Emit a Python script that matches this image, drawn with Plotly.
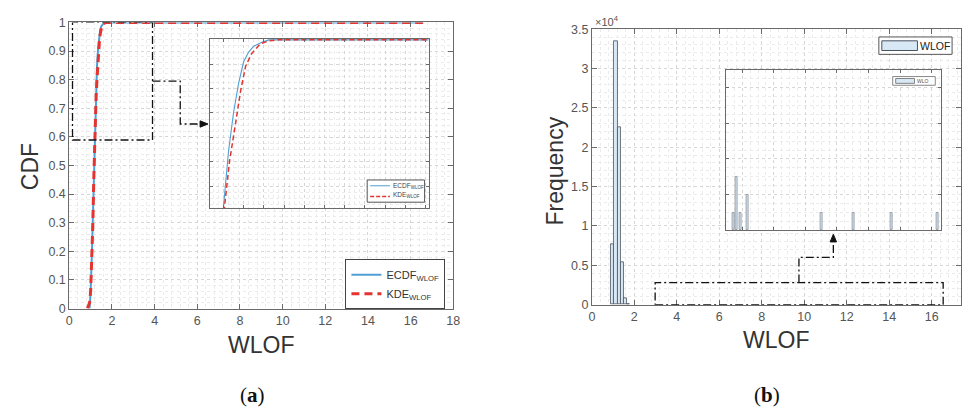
import plotly.graph_objects as go

W, H = 968, 416


def px(x):
    return x / W


def py(y):
    return 1 - y / H


# ---------------- data ----------------
ecdf_x = [0.95, 1.0, 1.05, 1.1, 1.15, 1.2, 1.25, 1.3, 1.35, 1.4, 1.45, 1.5, 1.58, 1.65, 16.55]
ecdf_y = [0.0, 0.06, 0.17, 0.32, 0.49, 0.655, 0.77, 0.85, 0.91, 0.955, 0.975, 0.987, 0.995, 1.0, 1.0]

kde_x = [0.85, 0.95, 1.0, 1.05, 1.1, 1.15, 1.21, 1.26, 1.32, 1.37, 1.42, 1.48, 1.565, 1.65, 1.73, 16.7]
kde_y = [0.0, 0.02, 0.06, 0.15, 0.29, 0.46, 0.655, 0.75, 0.828, 0.895, 0.946, 0.972, 0.992, 0.998, 1.0, 1.0]

bin_edges = [0.9, 1.03, 1.245, 1.38, 1.505, 1.66, 1.78]
bin_counts = [7700, 33500, 22500, 5400, 860, 100]

outlier_x = [3.47, 3.62, 3.91, 4.32, 8.99, 11.05, 13.45, 16.35]
outlier_counts = [1, 3, 1, 2, 1, 1, 1, 1]

x_ticks = list(range(0, 19, 2))
cdf_ticks = [0, 0.1, 0.2, 0.3, 0.4, 0.5, 0.6, 0.7, 0.8, 0.9, 1]
freq_ticks = [0, 5000, 10000, 15000, 20000, 25000, 30000, 35000]
freq_ticklabels = ["0", "0.5", "1", "1.5", "2", "2.5", "3", "3.5"]

# ---------------- styles ----------------
BLUE = "#4f9fd4"
RED = "#e3342f"
BAR_FILL = "#d9e8f5"
BAR_EDGE = "#4a525c"
AX = "#6a6a6a"
GRID = "#d6d6d6"
MGRID = "#ebebeb"
FONT = "Liberation Sans, Arial, sans-serif"
TICKFONT = dict(family=FONT, size=12.5, color="#555555")

bar_centers = [(a + b) / 2 for a, b in zip(bin_edges[:-1], bin_edges[1:])]
bar_widths = [b - a for a, b in zip(bin_edges[:-1], bin_edges[1:])]

fig = go.Figure()

# main CDF
fig.add_trace(go.Scatter(x=ecdf_x, y=ecdf_y, mode="lines", name="ECDF<sub>WLOF</sub>",
                         line=dict(color=BLUE, width=2), xaxis="x", yaxis="y"))
fig.add_trace(go.Scatter(x=kde_x, y=kde_y, mode="lines", name="KDE<sub>WLOF</sub>",
                         line=dict(color=RED, width=3, dash="8px,5px"), xaxis="x", yaxis="y"))
# inset CDF
fig.add_trace(go.Scatter(x=ecdf_x, y=ecdf_y, mode="lines", showlegend=False,
                         line=dict(color=BLUE, width=1.1), xaxis="x2", yaxis="y2"))
fig.add_trace(go.Scatter(x=kde_x, y=kde_y, mode="lines", showlegend=False,
                         line=dict(color=RED, width=1.5, dash="5px,3px"), xaxis="x2", yaxis="y2"))
# histogram
fig.add_trace(go.Bar(x=bar_centers, y=bin_counts, width=bar_widths, showlegend=False,
                     marker=dict(color=BAR_FILL, line=dict(color=BAR_EDGE, width=0.8)),
                     xaxis="x3", yaxis="y3"))
# inset histogram
fig.add_trace(go.Bar(x=outlier_x, y=outlier_counts, width=0.12, showlegend=False,
                     marker=dict(color=BAR_FILL, line=dict(color="#7a828c", width=0.7)),
                     xaxis="x4", yaxis="y4"))


def axis(domain, anchor, rng, labels=True, **kw):
    d = dict(domain=domain, anchor=anchor, range=rng, showline=True, linecolor=AX, linewidth=1,
             mirror="ticks", ticks="inside", ticklen=5, tickcolor=AX, showgrid=True,
             gridcolor=GRID, griddash="dot", gridwidth=1, zeroline=False,
             showticklabels=labels, tickfont=TICKFONT, fixedrange=True)
    d.update(kw)
    return d


fig.update_layout(
    width=W, height=H, margin=dict(l=0, r=0, t=0, b=0),
    paper_bgcolor="white", plot_bgcolor="white",
    font=dict(family=FONT),
    bargap=0,
    xaxis=axis([px(67), px(455)], "y", [0, 18], tickvals=x_ticks,
               minor=dict(dtick=0.4, showgrid=True, gridcolor=MGRID, griddash="dot", ticks="")),
    yaxis=axis([py(312), py(16)], "x", [0, 1], tickvals=cdf_ticks,
               minor=dict(dtick=0.02, showgrid=True, gridcolor=MGRID, griddash="dot", ticks="")),
    xaxis2=axis([px(209), px(430)], "y2", [1.066, 3.23], labels=False, tick0=1.2, dtick=0.2, ticklen=3,
                minor=dict(dtick=0.05, showgrid=True, gridcolor=MGRID, griddash="dot", ticks="")),
    yaxis2=axis([py(208), py(33)], "x2", [0.655, 1.002], labels=False, tick0=0.7, dtick=0.05, ticklen=3,
                minor=dict(dtick=0.0125, showgrid=True, gridcolor=MGRID, griddash="dot", ticks="")),
    xaxis3=axis([px(595), 1.0], "y3", [0, 17.38], tickvals=list(range(0, 17, 2)),
                minor=dict(dtick=0.4, showgrid=True, gridcolor=MGRID, griddash="dot", ticks="")),
    yaxis3=axis([py(308), py(23)], "x3", [0, 35000], tickvals=freq_ticks, ticktext=freq_ticklabels,
                minor=dict(dtick=1000, showgrid=True, gridcolor=MGRID, griddash="dot", ticks="")),
    xaxis4=axis([px(731), px(948)], "y4", [3, 16.6], labels=False, tickvals=list(range(4, 17, 2)), ticklen=3,
                minor=dict(dtick=0.5, showgrid=True, gridcolor=MGRID, griddash="dot", ticks="")),
    yaxis4=axis([py(231), py(65)], "x4", [0, 9], labels=False, dtick=2, ticklen=3,
                minor=dict(dtick=0.5, showgrid=True, gridcolor=MGRID, griddash="dot", ticks="")),
    legend=dict(x=px(346), y=py(261), xanchor="left", yanchor="top",
                bgcolor="white", bordercolor="#444444", borderwidth=1,
                font=dict(family=FONT, size=11, color="#333333"),
                tracegroupgap=0, itemwidth=30),
)

shapes = []
# white backgrounds behind insets (cover main grid)
shapes.append(dict(type="rect", xref="x2", yref="y2", x0=1.066, x1=3.23, y0=0.655, y1=1.002,
                   fillcolor="white", line=dict(width=0), layer="below"))
shapes.append(dict(type="rect", xref="x4", yref="y4", x0=3, x1=16.6, y0=0, y1=9,
                   fillcolor="white", line=dict(width=0), layer="below"))

DD = dict(color="#111111", width=1.3, dash="8px,3px,2px,3px")
# left zoom rectangle and connector
shapes.append(dict(type="rect", xref="x", yref="y", x0=0.15, x1=3.9, y0=0.589, y1=1.0,
                   line=DD, layer="above"))
shapes.append(dict(type="path", xref="x", yref="y",
                   path="M 3.9 0.795 L 5.2 0.795 L 5.2 0.645 L 6.15 0.645", line=DD, layer="above"))
shapes.append(dict(type="path", xref="x", yref="y",
                   path="M 6.5 0.645 L 6.13 0.656 L 6.13 0.634 Z",
                   fillcolor="#111111", line=dict(color="#111111", width=1), layer="above"))
# right zoom rectangle and connector
shapes.append(dict(type="rect", xref="x3", yref="y3", x0=2.98, x1=16.54, y0=0, y1=2800,
                   line=DD, layer="above"))
shapes.append(dict(type="path", xref="x3", yref="y3",
                   path="M 9.75 2800 L 9.75 6000 L 11.37 6000 L 11.37 8000", line=DD, layer="above"))
shapes.append(dict(type="path", xref="x3", yref="y3",
                   path="M 11.37 8950 L 11.22 7970 L 11.52 7970 Z",
                   fillcolor="#111111", line=dict(color="#111111", width=1), layer="above"))

# inset legend (left)
shapes.append(dict(type="rect", xref="paper", yref="paper", x0=px(368), x1=px(426), y0=py(202), y1=py(179),
                   fillcolor="white", line=dict(color="#555555", width=1), layer="above"))
shapes.append(dict(type="line", xref="paper", yref="paper", x0=px(371), x1=px(391), y0=py(185), y1=py(185),
                   line=dict(color=BLUE, width=1), layer="above"))
shapes.append(dict(type="line", xref="paper", yref="paper", x0=px(371), x1=px(391), y0=py(196), y1=py(196),
                   line=dict(color=RED, width=1.5, dash="4px,2px"), layer="above"))
# main legend (right)
shapes.append(dict(type="rect", xref="paper", yref="paper", x0=px(885), x1=px(959), y0=py(49), y1=py(31),
                   fillcolor="white", line=dict(color="#555555", width=1), layer="above"))
shapes.append(dict(type="rect", xref="paper", yref="paper", x0=px(888), x1=px(924), y0=py(45), y1=py(35),
                   fillcolor=BAR_FILL, line=dict(color=BAR_EDGE, width=1), layer="above"))
# inset legend (right)
shapes.append(dict(type="rect", xref="paper", yref="paper", x0=px(899), x1=px(942), y0=py(81), y1=py(72),
                   fillcolor="white", line=dict(color="#888888", width=1), layer="above"))
shapes.append(dict(type="rect", xref="paper", yref="paper", x0=px(902), x1=px(921), y0=py(79), y1=py(74),
                   fillcolor=BAR_FILL, line=dict(color="#666666", width=0.8), layer="above"))
fig.update_layout(shapes=shapes)

ann = []
# axis titles
TITLE = dict(family=FONT, size=23, color="#333333")
ann.append(dict(xref="paper", yref="paper", x=px(261), y=py(350), text="WLOF", showarrow=False,
                font=TITLE, xanchor="center", yanchor="middle"))
ann.append(dict(xref="paper", yref="paper", x=px(28), y=py(165), text="CDF", showarrow=False,
                font=TITLE, textangle=-90, xanchor="center", yanchor="middle"))
ann.append(dict(xref="paper", yref="paper", x=px(781), y=py(345), text="WLOF", showarrow=False,
                font=TITLE, xanchor="center", yanchor="middle"))
ann.append(dict(xref="paper", yref="paper", x=px(558), y=py(170), text="Frequency", showarrow=False,
                font=TITLE, textangle=-90, xanchor="center", yanchor="middle"))
# exponent label
ann.append(dict(xref="paper", yref="paper", x=px(596), y=py(15), text="×10<sup>4</sup>", showarrow=False,
                font=dict(family=FONT, size=11, color="#555555"), xanchor="left", yanchor="middle"))
# panel labels
PANEL = dict(family="Liberation Serif, Times New Roman, serif", size=21, color="#111111")
ann.append(dict(xref="paper", yref="paper", x=px(252), y=py(402), text="(<b>a</b>)", showarrow=False,
                font=PANEL, xanchor="center", yanchor="middle"))
ann.append(dict(xref="paper", yref="paper", x=px(772), y=py(402), text="(<b>b</b>)", showarrow=False,
                font=PANEL, xanchor="center", yanchor="middle"))
# inset legend texts
SMALL = dict(family=FONT, size=6.5, color="#444444")
ann.append(dict(xref="paper", yref="paper", x=px(392), y=py(185), text="ECDF<sub>WLOF</sub>", showarrow=False,
                font=SMALL, xanchor="left", yanchor="middle"))
ann.append(dict(xref="paper", yref="paper", x=px(392), y=py(195), text="KDE<sub>WLOF</sub>", showarrow=False,
                font=SMALL, xanchor="left", yanchor="middle"))
ann.append(dict(xref="paper", yref="paper", x=px(925), y=py(40), text="WLOF", showarrow=False,
                font=dict(family=FONT, size=10.5, color="#222222"), xanchor="left", yanchor="middle"))
ann.append(dict(xref="paper", yref="paper", x=px(922), y=py(76.5), text="WLO", showarrow=False,
                font=dict(family=FONT, size=5, color="#555555"), xanchor="left", yanchor="middle"))
fig.update_layout(annotations=ann)

fig.write_html("out.html")
